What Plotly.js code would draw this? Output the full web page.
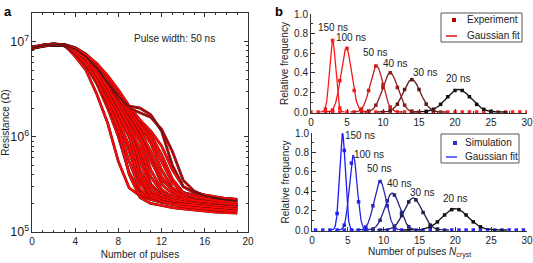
<!DOCTYPE html>
<html><head><meta charset="utf-8">
<script src="https://cdn.plot.ly/plotly-3.0.1.min.js"></script>
<style>html,body{margin:0;padding:0;background:#fff}#c{width:533px;height:263px}</style>
</head><body><div id="c"></div><script>
// ---------- Panel a: resistance vs number of pulses (representative runs) ----------
const pulses = [0,1,2,3,4,5,6,7,8,9,10,11,12,13,14,15,16,17,18,19];
const run01 = [8.6e6,9.2e6,9.5e6,9.2e6,7.0e6,5.0e6,2.8e6,1.4e6,5.5e5,2.9e5,2.4e5,2.2e5,2.1e5,2.0e5,1.9e5,1.85e5,1.8e5,1.75e5,1.7e5,1.65e5];
const run02 = [8.7e6,9.1e6,9.3e6,9.0e6,7.5e6,5.6e6,3.6e6,2.0e6,1.0e6,4.2e5,2.6e5,2.2e5,2.05e5,1.95e5,1.9e5,1.85e5,1.8e5,1.78e5,1.75e5,1.72e5];
const run03 = [8.4e6,8.9e6,9.2e6,9.1e6,7.8e6,6.0e6,4.0e6,2.4e6,1.35e6,7.0e5,3.2e5,2.4e5,2.2e5,2.1e5,2.0e5,1.95e5,1.9e5,1.85e5,1.8e5,1.8e5];
const run04 = [8.6e6,9.0e6,9.4e6,9.2e6,8.0e6,6.3e6,4.4e6,2.8e6,1.7e6,1.0e6,4.5e5,2.7e5,2.3e5,2.15e5,2.05e5,2.0e5,1.95e5,1.9e5,1.85e5,1.82e5];
const run05 = [8.5e6,9.0e6,9.3e6,9.3e6,8.2e6,6.6e6,4.7e6,3.1e6,1.9e6,1.25e6,6.5e5,3.2e5,2.4e5,2.2e5,2.1e5,2.05e5,2.0e5,1.95e5,1.9e5,1.9e5];
const run06 = [8.7e6,9.2e6,9.4e6,9.2e6,8.3e6,6.8e6,5.0e6,3.4e6,2.2e6,1.4e6,9.0e5,4.5e5,2.8e5,2.3e5,2.15e5,2.05e5,2.0e5,1.95e5,1.9e5,1.88e5];
const run07 = [8.6e6,9.1e6,9.3e6,9.3e6,8.5e6,7.1e6,5.4e6,3.8e6,2.5e6,1.6e6,1.1e6,6.0e5,3.2e5,2.5e5,2.25e5,2.1e5,2.05e5,2.0e5,1.95e5,1.9e5];
const run08 = [8.5e6,9.0e6,9.2e6,9.2e6,8.4e6,7.2e6,5.6e6,4.0e6,2.7e6,1.8e6,1.25e6,8.5e5,4.5e5,2.9e5,2.4e5,2.2e5,2.1e5,2.05e5,2.0e5,1.95e5];
const run09 = [8.6e6,9.1e6,9.4e6,9.3e6,8.6e6,7.3e6,5.8e6,4.3e6,3.0e6,2.0e6,1.4e6,1.05e6,6.5e5,3.6e5,2.6e5,2.3e5,2.15e5,2.1e5,2.05e5,2.0e5];
const run10 = [8.6e6,9.1e6,9.3e6,9.2e6,8.4e6,7.0e6,5.3e6,3.8e6,2.7e6,2.1e6,2.0e6,1.7e6,1.15e6,5.0e5,3.0e5,2.6e5,2.4e5,2.25e5,2.15e5,2.1e5];
const run11 = [8.5e6,9.0e6,9.2e6,9.2e6,8.3e6,6.9e6,5.2e6,3.7e6,2.6e6,2.0e6,1.8e6,1.6e6,1.2e6,7.0e5,3.5e5,2.7e5,2.4e5,2.3e5,2.2e5,2.15e5];
const run12 = [8.8e6,9.2e6,9.4e6,9.1e6,7.6e6,5.8e6,3.8e6,2.2e6,1.15e6,4.0e5,2.3e5,2.0e5,1.9e5,1.8e5,1.75e5,1.7e5,1.65e5,1.62e5,1.6e5,1.58e5];
const run13 = [8.6e6,9.0e6,9.2e6,9.2e6,8.4e6,7.0e6,5.2e6,3.5e6,2.3e6,1.5e6,1.0e6,5.5e5,3.5e5,2.9e5,2.6e5,2.45e5,2.35e5,2.3e5,2.25e5,2.2e5];
const run14 = [8.6e6,9.1e6,9.3e6,9.1e6,7.9e6,6.1e6,4.2e6,2.6e6,1.5e6,8.0e5,3.5e5,2.5e5,2.25e5,2.1e5,2.0e5,1.9e5,1.85e5,1.8e5,1.75e5,1.7e5];
const run15 = [8.5e6,9.0e6,9.3e6,9.3e6,8.6e6,7.4e6,5.6e6,3.6e6,2.0e6,1.2e6,5.5e5,3.0e5,2.4e5,2.2e5,2.1e5,2.0e5,1.95e5,1.9e5,1.88e5,1.85e5];
const run16 = [8.6e6,9.1e6,9.3e6,9.1e6,7.7e6,5.9e6,3.9e6,2.3e6,1.2e6,5.5e5,2.8e5,2.3e5,2.1e5,2.0e5,1.95e5,1.9e5,1.85e5,1.8e5,1.78e5,1.75e5];
const run17 = [8.6e6,9.1e6,9.3e6,9.2e6,8.2e6,6.7e6,4.9e6,3.3e6,2.1e6,1.3e6,7.5e5,3.8e5,2.6e5,2.3e5,2.2e5,2.1e5,2.05e5,2.0e5,1.95e5,1.92e5];
const run18 = [8.5e6,9.0e6,9.3e6,9.2e6,8.4e6,7.1e6,5.5e6,3.9e6,2.6e6,1.7e6,1.15e6,7.0e5,3.8e5,2.7e5,2.3e5,2.15e5,2.1e5,2.05e5,2.0e5,1.95e5];
const run19 = [8.6e6,9.1e6,9.3e6,9.2e6,8.5e6,7.2e6,5.7e6,4.2e6,2.9e6,1.9e6,1.3e6,9.5e5,5.5e5,3.3e5,2.6e5,2.35e5,2.25e5,2.15e5,2.1e5,2.05e5];
const run20 = [8.7e6,9.2e6,9.4e6,9.2e6,8.1e6,6.5e6,4.5e6,2.9e6,1.8e6,1.05e6,4.0e5,2.4e5,2.1e5,1.95e5,1.85e5,1.8e5,1.75e5,1.7e5,1.68e5,1.65e5];
const run21 = [8.5e6,9.0e6,9.2e6,9.2e6,8.5e6,7.3e6,5.9e6,4.4e6,3.1e6,2.1e6,1.5e6,1.15e6,8.0e5,4.5e5,3.0e5,2.6e5,2.45e5,2.35e5,2.25e5,2.2e5];
const runs = [run01,run02,run03,run04,run05,run06,run07,run08,run09,run10,run11,run12,run13,run14,run15,run16,run17,run18,run19,run20,run21];

// ---------- Panel b (top): experiment ----------
const widthLabels = ['150 ns','100 ns','50 ns','40 ns','30 ns','20 ns'];
const expCenter = [3.0, 4.9, 9.1, 11.0, 14.0, 20.5];
const expHeight = [0.73, 0.65, 0.47, 0.40, 0.33, 0.23];
const expSigma  = [0.42, 0.75, 0.90, 1.05, 1.20, 1.70];
const expX = [[2,3,4],[3,4,5,6,7],[7,8,9,10,11],[8,9,10,11,12,13,14],[11,12,13,14,15,16,17],[16,17,18,19,20,21,22,23,24,25]];
const expY = [[0.03,0.73,0.04],[0.02,0.32,0.65,0.22,0.02],[0.03,0.22,0.47,0.28,0.05],[0.01,0.07,0.25,0.40,0.25,0.07,0.01],[0.015,0.08,0.23,0.33,0.23,0.08,0.015],[0.007,0.028,0.078,0.156,0.22,0.22,0.156,0.078,0.028,0.007]];
const expBaseX = [0,1,2,3,4,5,6,7,8,9,10,11,12,13,14,15,16,17,18,19,20,21,22,23,24,25,26,27,28,29,30];
const expBaseY = [0,0,0,0,0,0,0,0,0,0,0,0,0,0,0,0,0,0,0,0,0,0,0,0,0,0,0,0,0,0,0];

// ---------- Panel b (bottom): simulation ----------
const simCenter = [4.25, 5.75, 9.5, 11.2, 14.1, 20.0];
const simHeight = [1.00, 0.77, 0.50, 0.38, 0.33, 0.22];
const simSigma  = [0.40, 0.54, 0.85, 1.05, 1.25, 1.80];
const simX = [[3.5,4.5],[4.5,5.5,6.5,7.5],[7.5,8.5,9.5,10.5,11.5],[8.5,9.5,10.5,11.5,12.5,13.5],[11.5,12.5,13.5,14.5,15.5,16.5,17.5],[16.5,17.5,18.5,19.5,20.5,21.5,22.5,23.5]];
const simY = [[0.17,0.82],[0.05,0.69,0.29,0.01],[0.03,0.25,0.50,0.25,0.03],[0.01,0.10,0.30,0.36,0.18,0.035],[0.04,0.15,0.29,0.31,0.18,0.05,0.01],[0.033,0.084,0.155,0.21,0.21,0.155,0.084,0.033]];
const simBaseX = [0.5,1.5,2.5,3.5,4.5,5.5,6.5,7.5,8.5,9.5,10.5,11.5,12.5,13.5,14.5,15.5,16.5,17.5,18.5,19.5,20.5,21.5,22.5,23.5,24.5,25.5,26.5,27.5,28.5,29.5];
const simBaseY = [0,0,0,0,0,0,0,0,0,0,0,0,0,0,0,0,0,0,0,0,0,0,0,0,0,0,0,0,0,0];

// ---------- styles ----------
const FONT = 'Liberation Sans, Arial, sans-serif';
const redShades  = ['#ff1a1a','#f01818','#c41e1e','#8e1c1c','#5a1818','#111111'];
const blueShades = ['#1a1aff','#2424e6','#2a2ab4','#26267e','#1e1e4e','#111111'];

const traces = [];
runs.forEach((r,i)=>{
  traces.push({x:pulses,y:r,xaxis:'x',yaxis:'y',mode:'lines',line:{color:'#3a1414',width:2.7},hoverinfo:'skip',showlegend:false});
  traces.push({x:pulses,y:r,xaxis:'x',yaxis:'y',mode:'lines',line:{color:'#ff0808',width:2.2},hoverinfo:'skip',showlegend:false});
});
[9,10].forEach(i=>{
  traces.push({x:pulses,y:runs[i],xaxis:'x',yaxis:'y',mode:'lines',line:{color:'#3a1a1a',width:0.9},hoverinfo:'skip',showlegend:false});
});

function gaussCurve(mu, a, s){
  const xs=[], ys=[];
  for (let t=-4; t<=4.0001; t+=0.05){ xs.push(mu+t*s); ys.push(a*Math.exp(-t*t/2)); }
  return [xs, ys];
}
traces.push({x:expBaseX,y:expBaseY,xaxis:'x2',yaxis:'y2',mode:'markers',marker:{symbol:'square',size:3.5,color:'#ff2020'},showlegend:false});
traces.push({x:simBaseX,y:simBaseY,xaxis:'x3',yaxis:'y3',mode:'markers',marker:{symbol:'square',size:3.5,color:'#2a2aff'},showlegend:false});
for (let i=5;i>=0;i--){
  const [gx,gy]=gaussCurve(expCenter[i],expHeight[i],expSigma[i]);
  traces.push({x:gx,y:gy,xaxis:'x2',yaxis:'y2',mode:'lines',line:{color:redShades[i],width:1.3},showlegend:false});
  traces.push({x:expX[i],y:expY[i],xaxis:'x2',yaxis:'y2',mode:'markers',marker:{symbol:'square',size:3.5,color:redShades[i]},showlegend:false});
  const [sx,sy]=gaussCurve(simCenter[i],simHeight[i],simSigma[i]);
  traces.push({x:sx,y:sy,xaxis:'x3',yaxis:'y3',mode:'lines',line:{color:blueShades[i],width:1.3},showlegend:false});
  traces.push({x:simX[i],y:simY[i],xaxis:'x3',yaxis:'y3',mode:'markers',marker:{symbol:'square',size:3.5,color:blueShades[i]},showlegend:false});
}

const W=533,H=263;
const px = v=>v/W, py = v=>1-v/H;
const tickFont = {family:FONT,size:10,color:'#222'};
const titleFont = {family:FONT,size:10,color:'#222'};
const axBase = {showline:true,linecolor:'#333',linewidth:1,ticks:'inside',ticklen:4,tickcolor:'#333',tickfont:tickFont,showgrid:false,zeroline:false,automargin:false};

const annotations = [
  {text:'<b>a</b>',x:px(2),y:py(2),xref:'paper',yref:'paper',xanchor:'left',yanchor:'top',showarrow:false,font:{family:FONT,size:13,color:'#000'}},
  {text:'<b>b</b>',x:px(273),y:py(2),xref:'paper',yref:'paper',xanchor:'left',yanchor:'top',showarrow:false,font:{family:FONT,size:13,color:'#000'}},
  {text:'Pulse width: 50 ns',x:px(174),y:py(38),xref:'paper',yref:'paper',xanchor:'center',yanchor:'middle',showarrow:false,font:{family:FONT,size:10,color:'#222'}},
  {text:'Experiment',x:px(465),y:py(20),xref:'paper',yref:'paper',xanchor:'left',yanchor:'middle',showarrow:false,font:{family:FONT,size:10,color:'#222'}},
  {text:'Gaussian fit',x:px(465),y:py(35),xref:'paper',yref:'paper',xanchor:'left',yanchor:'middle',showarrow:false,font:{family:FONT,size:10,color:'#222'}},
  {text:'Simulation',x:px(463),y:py(142),xref:'paper',yref:'paper',xanchor:'left',yanchor:'middle',showarrow:false,font:{family:FONT,size:10,color:'#222'}},
  {text:'Gaussian fit',x:px(463),y:py(156),xref:'paper',yref:'paper',xanchor:'left',yanchor:'middle',showarrow:false,font:{family:FONT,size:10,color:'#222'}}
];
const expLabelPos = [[3.1,0.86],[5.6,0.76],[8.9,0.61],[11.7,0.50],[15.9,0.40],[20.4,0.34]];
const simLabelPos = [[6.7,0.97],[8.0,0.78],[9.3,0.63],[12.1,0.48],[15.3,0.39],[20.0,0.32]];
widthLabels.forEach((t,i)=>{
  annotations.push({text:t,x:expLabelPos[i][0],y:expLabelPos[i][1],xref:'x2',yref:'y2',xanchor:'center',yanchor:'middle',showarrow:false,font:{family:FONT,size:10,color:'#222'}});
  annotations.push({text:t,x:simLabelPos[i][0],y:simLabelPos[i][1],xref:'x3',yref:'y3',xanchor:'center',yanchor:'middle',showarrow:false,font:{family:FONT,size:10,color:'#222'}});
});

const shapes = [
  {type:'rect',xref:'paper',yref:'paper',x0:px(441),x1:px(522),y0:py(13),y1:py(42),line:{color:'#555',width:1}},
  {type:'rect',xref:'paper',yref:'paper',x0:px(452),x1:px(456),y0:py(18),y1:py(22),fillcolor:'#b00000',line:{width:0}},
  {type:'line',xref:'paper',yref:'paper',x0:px(446),x1:px(457),y0:py(36),y1:py(36),line:{color:'#e01010',width:1.5}},
  {type:'rect',xref:'paper',yref:'paper',x0:px(441),x1:px(519),y0:py(134),y1:py(163),line:{color:'#555',width:1}},
  {type:'rect',xref:'paper',yref:'paper',x0:px(453),x1:px(457),y0:py(141),y1:py(145),fillcolor:'#3030c0',line:{width:0}},
  {type:'line',xref:'paper',yref:'paper',x0:px(446),x1:px(457),y0:py(157),y1:py(157),line:{color:'#3a3aff',width:1.5}}
];

const layout = {
  width:W,height:H,margin:{l:0,r:0,t:0,b:0},paper_bgcolor:'#fff',plot_bgcolor:'rgba(0,0,0,0)',showlegend:false,
  font:{family:FONT,size:10,color:'#222'},
  xaxis:Object.assign({},axBase,{domain:[px(32),px(248)],anchor:'y',range:[0,20],tickvals:[0,4,8,12,16,20],minor:{ticks:'inside',ticklen:2,dtick:1,tickcolor:'#333'},mirror:'ticks',
    title:{text:'Number of pulses',font:titleFont,standoff:4}}),
  yaxis:Object.assign({},axBase,{domain:[py(232),py(13)],anchor:'x',type:'log',range:[5,7.3],dtick:1,exponentformat:'power',minor:{ticks:'inside',ticklen:2,tickcolor:'#333'},mirror:'ticks',
    title:{text:'Resistance (Ω)',font:titleFont,standoff:2}}),
  xaxis2:Object.assign({},axBase,{domain:[px(311),px(527)],anchor:'y2',range:[0,30],dtick:5,minor:{ticks:'inside',ticklen:2,dtick:2.5,tickcolor:'#333'}}),
  yaxis2:Object.assign({},axBase,{domain:[py(113),py(14)],anchor:'x2',range:[-0.01,1.0],dtick:0.2,tickformat:'.1f',minor:{ticks:'inside',ticklen:2,dtick:0.1,tickcolor:'#333'},
    title:{text:'Relative frequency',font:titleFont,standoff:3}}),
  xaxis3:Object.assign({},axBase,{domain:[px(312),px(527)],anchor:'y3',range:[0,30],dtick:5,minor:{ticks:'inside',ticklen:2,dtick:2.5,tickcolor:'#333'},
    title:{text:'Number of pulses <i>N</i><sub>cryst</sub>',font:titleFont,standoff:2}}),
  yaxis3:Object.assign({},axBase,{domain:[py(231),py(133)],anchor:'x3',range:[-0.01,1.0],dtick:0.2,tickformat:'.1f',minor:{ticks:'inside',ticklen:2,dtick:0.1,tickcolor:'#333'},
    title:{text:'Relative frequency',font:titleFont,standoff:3}}),
  annotations:annotations,shapes:shapes
};
Plotly.newPlot('c',traces,layout,{staticPlot:true,displayModeBar:false});
</script></body></html>
